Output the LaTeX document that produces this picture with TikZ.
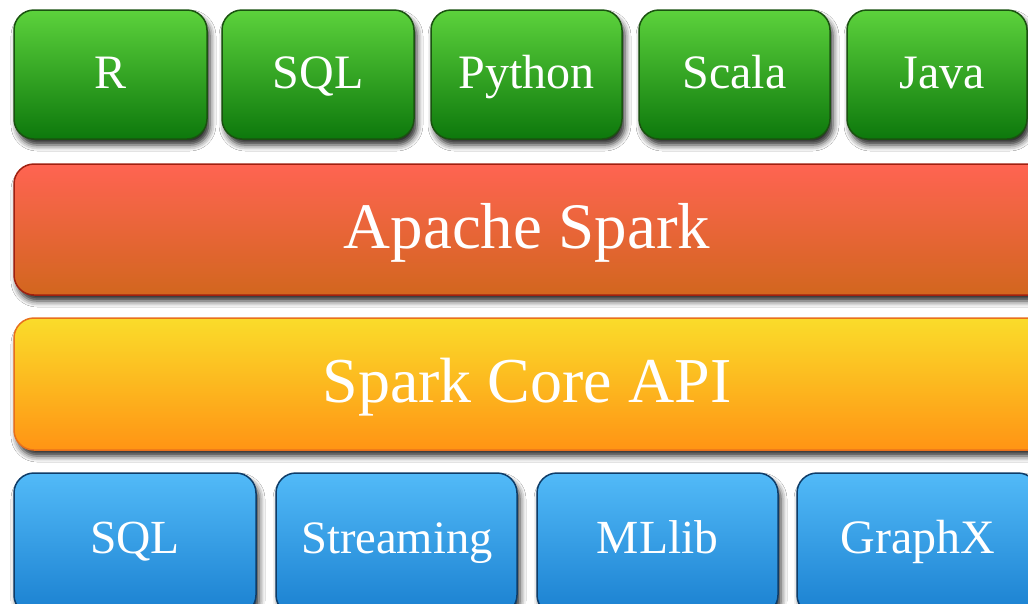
\documentclass[tikz,border=0pt]{standalone}
\usepackage{fontspec}
\setmainfont{Liberation Serif}
\usetikzlibrary{shadows.blur}
\definecolor{gtop}{HTML}{5CD23C}
\definecolor{gbot}{HTML}{0D780C}
\definecolor{gbrd}{HTML}{1A5210}
\definecolor{rtop}{HTML}{FF6452}
\definecolor{rbot}{HTML}{D2661E}
\definecolor{rbrd}{HTML}{A02010}
\definecolor{ytop}{HTML}{FADC2A}
\definecolor{ybot}{HTML}{FF9414}
\definecolor{ybrd}{HTML}{E8701C}
\definecolor{btop}{HTML}{52BAF8}
\definecolor{bbot}{HTML}{1A80D0}
\definecolor{bbrd}{HTML}{0E3C68}
\tikzset{
  layerbox/.style={rectangle, rounded corners=20pt, line width=1.5pt, inner sep=0pt,
    blur shadow={shadow xshift=3pt, shadow yshift=-6pt, shadow blur radius=6pt, shadow opacity=85}},
  gbox/.style={layerbox, draw=gbrd, top color=gtop, bottom color=gbot, minimum height=129pt},
  rbox/.style={layerbox, draw=rbrd, top color=rtop, bottom color=rbot, minimum height=131pt},
  ybox/.style={layerbox, draw=ybrd, top color=ytop, bottom color=ybot, minimum height=132pt},
  bbox/.style={layerbox, draw=bbrd, top color=btop, bottom color=bbot,
    minimum height=142pt, minimum width=241pt},
  smalltxt/.style={text=white, anchor=base, inner sep=0pt, font=\fontsize{48}{50}\selectfont},
  bigtxt/.style={text=white, anchor=base, inner sep=0pt, font=\fontsize{65}{68}\selectfont},
}
\begin{document}
\begin{tikzpicture}[x=1pt,y=-1pt]
\useasboundingbox (0,0) rectangle (1028,603);
\clip (0,0) rectangle (1028,603);
\fill[white] (0,0) rectangle (1028,603);
% languages
\node[gbox, minimum width=193pt] (r) at (110.5,74.5) {};
\node[gbox, minimum width=192pt] (sqlL) at (318,74.5) {};
\node[gbox, minimum width=191pt] (py) at (526.5,74.5) {};
\node[gbox, minimum width=191pt] (sc) at (734.5,74.5) {};
\node[gbox, minimum width=180pt] (jv) at (937,74.5) {};
\node[smalltxt] (rt) at (110.5,88) {R};
\node[smalltxt] (sqlLt) at (318,88) {SQL};
\node[smalltxt] (pyt) at (526.5,88) {Python};
\node[smalltxt] (sct) at (734.5,88) {Scala};
\node[smalltxt] (jvt) at (942,88) {Java};
% spark
\node[rbox, minimum width=1040pt] (spark) at (534,229.5) {};
\node[bigtxt] (sparkt) at (527,248) {Apache Spark};
\node[ybox, minimum width=1040pt] (core) at (534,384) {};
\node[bigtxt, font=\fontsize{64}{68}\selectfont] (coret) at (527,402) {Spark Core API};
% libraries
\node[bbox, minimum width=242pt] (sqlB) at (135,544) {};
\node[bbox] (stream) at (396.5,544) {};
\node[bbox] (ml) at (657.5,544) {};
\node[bbox] (gx) at (917.5,544) {};
\node[smalltxt, font=\fontsize{47.5}{50}\selectfont] (sqlBt) at (135,553) {SQL};
\node[smalltxt, font=\fontsize{46.5}{50}\selectfont] (streamt) at (397,553) {Streaming};
\node[smalltxt, font=\fontsize{47.5}{50}\selectfont] (mlt) at (657.5,553) {MLlib};
\node[smalltxt, font=\fontsize{48}{50}\selectfont] (gxt) at (918,553) {GraphX};
\end{tikzpicture}
\end{document}
